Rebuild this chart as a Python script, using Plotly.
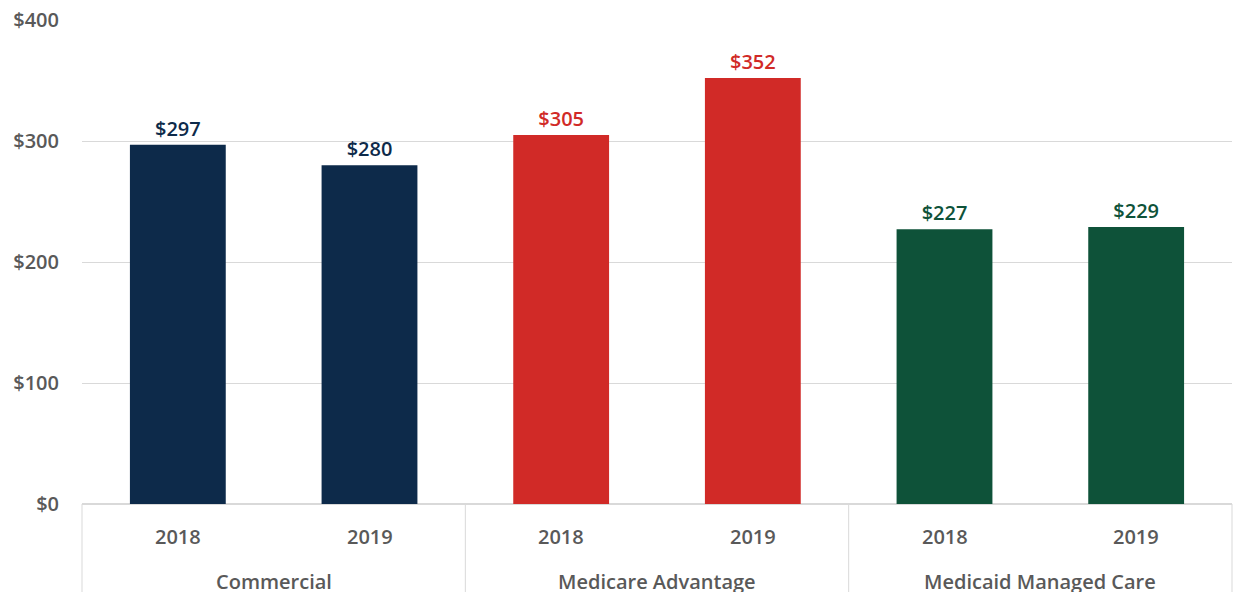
import plotly.graph_objects as go

groups = ["Commercial", "Commercial", "Medicare Advantage", "Medicare Advantage",
          "Medicaid Managed Care", "Medicaid Managed Care"]
years = ["2018", "2019", "2018", "2019", "2018", "2019"]
values = [297, 280, 305, 352, 227, 229]
colors = ["#0D2A4A", "#0D2A4A", "#D12A27", "#D12A27", "#0E5239", "#0E5239"]

GRAY = "#595959"
LINE = "#D9D9D9"
n = len(values)

fig = go.Figure()

fig.add_trace(go.Bar(
    x=[groups, years],
    y=values,
    marker=dict(color=colors, line=dict(width=0)),
    text=[f"${v}" for v in values],
    textposition="outside",
    textfont=dict(color=colors, size=20, family="Open Sans", weight=600),
    cliponaxis=False,
    showlegend=False,
))

# year labels under each bar
for i, yr in enumerate(years):
    fig.add_annotation(x=(i + 0.5) / n, y=0, xref="paper", yref="paper",
                       text=yr, showarrow=False, yshift=-32,
                       xanchor="center", yanchor="middle",
                       font=dict(size=20, color=GRAY, weight=600))

# group labels and dividers
order = list(dict.fromkeys(groups))
start = 0
fig.add_shape(type="line", xref="paper", yref="paper", x0=0, x1=0, y0=0, y1=-0.2,
              line=dict(color=LINE, width=1))
for g in order:
    cnt = groups.count(g)
    mid = (start + cnt / 2) / n
    fig.add_annotation(x=mid, y=0, xref="paper", yref="paper", text=g,
                       showarrow=False, yshift=-77,
                       xanchor="center", yanchor="middle",
                       font=dict(size=20, color=GRAY, weight=600))
    start += cnt
    fig.add_shape(type="line", xref="paper", yref="paper",
                  x0=start / n, x1=start / n, y0=0, y1=-0.2,
                  line=dict(color=LINE, width=1))

fig.update_layout(
    width=1233,
    height=592,
    margin=dict(l=82, r=1, t=20, b=88),
    plot_bgcolor="white",
    paper_bgcolor="white",
    bargap=0.5,
    font=dict(family="Open Sans", size=20, color=GRAY),
    yaxis=dict(
        range=[0, 400],
        dtick=100,
        tickprefix="$",
        showgrid=True,
        gridcolor=LINE,
        gridwidth=1,
        zeroline=True,
        zerolinecolor=LINE,
        tickfont=dict(size=20, color=GRAY, weight=600),
        ticks="",
        ticklabelstandoff=22,
        automargin=False,
    ),
    xaxis=dict(
        type="multicategory",
        showticklabels=False,
        showdividers=False,
        showline=False,
        ticks="",
        automargin=False,
    ),
)

fig.write_html("out.html", config={"displayModeBar": False},
               post_script="document.body.style.margin='0px';")
